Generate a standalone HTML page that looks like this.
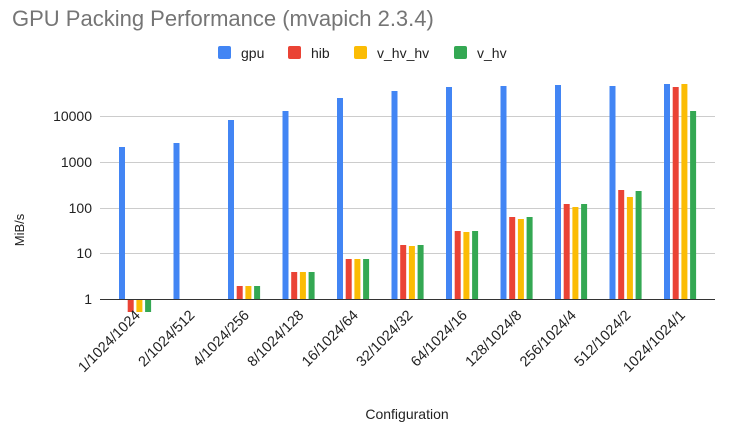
<!DOCTYPE html>
<html><head><meta charset="utf-8"><style>
html,body{margin:0;padding:0;background:#fff;}
svg{display:block;font-family:"Liberation Sans",Arial,sans-serif;}
</style></head><body>
<svg width="730" height="430" xmlns="http://www.w3.org/2000/svg">
<text x="12" y="26" font-size="22" fill="#757575">GPU Packing Performance (mvapich 2.3.4)</text>
<g font-size="14" fill="#222">
<rect x="218" y="46" width="13" height="13" rx="2" fill="#4285F4"/><text x="241" y="58">gpu</text>
<rect x="288" y="46" width="13" height="13" rx="2" fill="#EA4335"/><text x="311" y="58">hib</text>
<rect x="354" y="46" width="13" height="13" rx="2" fill="#FBBC04"/><text x="377" y="58">v_hv_hv</text>
<rect x="454" y="46" width="13" height="13" rx="2" fill="#34A853"/><text x="477" y="58">v_hv</text>
</g>
<g stroke="#ccc" stroke-width="1">
<line x1="100" x2="715" y1="116.5" y2="116.5"/>
<line x1="100" x2="715" y1="162.5" y2="162.5"/>
<line x1="100" x2="715" y1="208.5" y2="208.5"/>
<line x1="100" x2="715" y1="253.5" y2="253.5"/>
</g>
<g font-size="14" fill="#222" text-anchor="end">
<text x="92" y="121">10000</text><text x="92" y="167">1000</text>
<text x="92" y="213">100</text><text x="92" y="258">10</text><text x="92" y="304">1</text>
</g>
<text transform="translate(24,230) rotate(-90)" font-size="13" fill="#222" text-anchor="middle">MiB/s</text>
<g id="bars"></g>
<line x1="100" x2="715" y1="299.5" y2="299.5" stroke="#333" stroke-width="1"/>
<g id="labels" font-size="14.5" fill="#222" text-anchor="end"></g>
<text x="407" y="419" font-size="14" fill="#222" text-anchor="middle">Configuration</text>
<script>
var labels=["1/1024/1024","2/1024/512","4/1024/256","8/1024/128","16/1024/64","32/1024/32","64/1024/16","128/1024/8","256/1024/4","512/1024/2","1024/1024/1"];
var tops=[[147,312,312,312],[143,null,null,null],[120,286,286,286],[111,272,272,272],[98,259,259,259],[91,245,246,245],[87,231,232,231],[86,217,219,217],[85,204,207,204],[86,190,197,191],[84,87,84,111]];
var cols=["#4285F4","#EA4335","#FBBC04","#34A853"];
var ns="http://www.w3.org/2000/svg",b=document.getElementById("bars"),l=document.getElementById("labels");
for(var i=0;i<11;i++){var c=135+i*54.5;
for(var j=0;j<4;j++){var t=tops[i][j];if(t===null)continue;var x=c-16+j*8.7;
var y=Math.min(t,299),h=Math.abs(299-t);var r=document.createElementNS(ns,"rect");
r.setAttribute("x",x);r.setAttribute("y",y);r.setAttribute("width",6);r.setAttribute("height",h);r.setAttribute("fill",cols[j]);b.appendChild(r);}
var tx=document.createElementNS(ns,"text");tx.setAttribute("transform","translate("+(c+6)+",316) rotate(-45)");tx.textContent=labels[i];l.appendChild(tx);}
</script>
</svg>
</body></html>
